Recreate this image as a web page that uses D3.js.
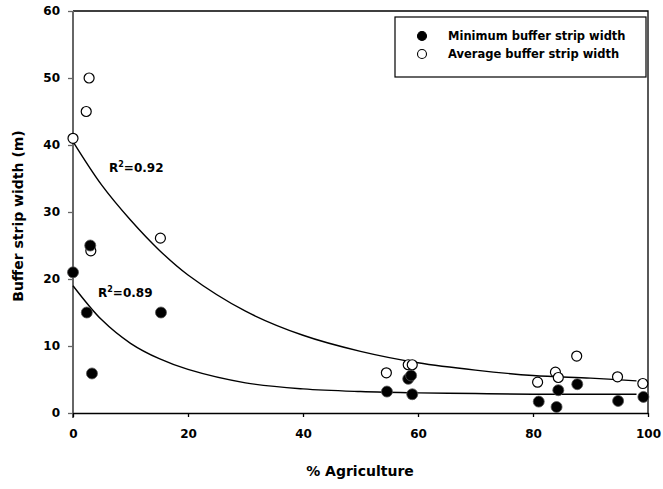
<!DOCTYPE html>
<html>
<head>
<style>
  body { margin: 0; background: #fff; }
  text { font-family: "DejaVu Sans", "Liberation Sans", Arial, sans-serif; font-weight: bold; }
</style>
</head>
<body>
<div id="viz"></div>
<script src="https://d3js.org/d3.v7.min.js"></script>
<script>
  // observed points (% agriculture, width in m)
  const minX = [0, 3, 2.4, 15.3, 3.3, 54.6, 58.3, 58.8, 59, 81, 84.1, 84.4, 87.7, 94.8, 99.2];
  const minY = [21, 25, 15, 15, 5.9, 3.2, 5.1, 5.6, 2.8, 1.7, 0.9, 3.4, 4.3, 1.8, 2.4];
  const avgX = [0, 2.3, 2.8, 3.1, 15.2, 54.5, 58.3, 59, 80.8, 83.9, 84.4, 87.6, 94.7, 99.1];
  const avgY = [41, 45, 50, 24.2, 26.1, 6, 7.2, 7.2, 4.6, 6.1, 5.3, 8.5, 5.4, 4.4];

  // fitted curves
  const fitX = [0, 5, 10, 15, 20, 30, 40, 50, 60, 70, 80, 90, 98];
  const avgFit = [40.5, 34, 28.8, 24.3, 20.6, 15.2, 11.6, 9.2, 7.5, 6.4, 5.6, 5.2, 4.8];
  const minFit = [19, 13.9, 10.4, 8.1, 6.5, 4.5, 3.6, 3.2, 3.0, 2.9, 2.8, 2.8, 2.8];

  const xTicks = [0, 20, 40, 60, 80, 100];
  const yTicks = [0, 10, 20, 30, 40, 50, 60];

  const width = 663, height = 489;

  const svg = d3.select("#viz").append("svg")
      .attr("width", width)
      .attr("height", height);

  const x = d3.scaleLinear().domain([0, 100]).range([73, 648]);
  const y = d3.scaleLinear().domain([0, 60]).range([413, 11]);

  // frame top and right
  svg.append("path")
      .attr("d", `M${x(0)},${y(60)}H${x(100)}V${y(0)}`)
      .attr("fill", "none")
      .attr("stroke", "#000")
      .attr("stroke-width", 1.3);

  // axes
  const yAxis = svg.append("g")
      .attr("transform", `translate(${x(0)},0)`)
      .call(d3.axisLeft(y).tickValues(yTicks).tickSize(5).tickSizeOuter(0).tickPadding(8));
  yAxis.select(".domain").attr("stroke", "#666").attr("stroke-width", 2)
      .attr("d", `M0,${y(60)}V${y(0) + 5}`);
  yAxis.selectAll(".tick line").attr("stroke", "#666").attr("stroke-width", 1.3);
  yAxis.selectAll(".tick text").attr("font-size", 12).attr("fill", "#000");

  const xAxis = svg.append("g")
      .attr("transform", `translate(0,${y(0)})`)
      .call(d3.axisBottom(x).tickValues(xTicks).tickSize(4).tickSizeOuter(0).tickPadding(12));
  xAxis.select(".domain").attr("stroke", "#000").attr("stroke-width", 1.3);
  xAxis.selectAll(".tick line").attr("stroke", "#000").attr("stroke-width", 1.3);
  xAxis.selectAll(".tick text").attr("font-size", 12).attr("fill", "#000");

  // axis titles
  svg.append("text")
      .attr("transform", `translate(23,${(y(0) + y(60)) / 2 + 4}) rotate(-90)`)
      .attr("text-anchor", "middle")
      .attr("font-size", 14)
      .text("Buffer strip width (m)");

  svg.append("text")
      .attr("x", 360)
      .attr("y", 476)
      .attr("text-anchor", "middle")
      .attr("font-size", 14)
      .text("% Agriculture");

  // fitted curves
  const line = d3.line()
      .x(d => x(d[0]))
      .y(d => y(d[1]))
      .curve(d3.curveCatmullRom.alpha(0.5));

  [avgFit, minFit].forEach(fit => {
    svg.append("path")
        .datum(fitX.map((v, i) => [v, fit[i]]))
        .attr("d", line)
        .attr("fill", "none")
        .attr("stroke", "#000")
        .attr("stroke-width", 1.4);
  });

  // points
  svg.selectAll(".avg")
      .data(avgX.map((v, i) => [v, avgY[i]]))
    .enter().append("circle")
      .attr("class", "avg")
      .attr("cx", d => x(d[0]))
      .attr("cy", d => y(d[1]))
      .attr("r", 5)
      .attr("fill", "#fff")
      .attr("stroke", "#000")
      .attr("stroke-width", 1.2);

  svg.selectAll(".min")
      .data(minX.map((v, i) => [v, minY[i]]))
    .enter().append("circle")
      .attr("class", "min")
      .attr("cx", d => x(d[0]))
      .attr("cy", d => y(d[1]))
      .attr("r", 5.5)
      .attr("fill", "#000")
      .attr("stroke", "#555")
      .attr("stroke-width", 0.8);

  // R2 labels
  const r2 = [["0.92", 109, 172], ["0.89", 98, 297]];
  r2.forEach(d => {
    const t = svg.append("text")
        .attr("x", d[1])
        .attr("y", d[2])
        .attr("font-size", 12);
    t.append("tspan").text("R");
    t.append("tspan").attr("font-size", 8).attr("dy", -5).text("2");
    t.append("tspan").attr("dy", 5).text("=" + d[0]);
  });

  // legend
  const legend = svg.append("g");
  legend.append("rect")
      .attr("x", 395).attr("y", 17)
      .attr("width", 251).attr("height", 60)
      .attr("fill", "#fff")
      .attr("stroke", "#000")
      .attr("stroke-width", 1.2);
  const items = [["Minimum buffer strip width", "#000"], ["Average buffer strip width", "#fff"]];
  items.forEach((d, i) => {
    legend.append("circle")
        .attr("cx", 422).attr("cy", 36 + i * 18)
        .attr("r", 4.5)
        .attr("fill", d[1])
        .attr("stroke", "#000")
        .attr("stroke-width", 1.1);
    legend.append("text")
        .attr("x", 448).attr("y", 40 + i * 18)
        .attr("font-size", 11.5)
        .text(d[0]);
  });
</script>
</body>
</html>
